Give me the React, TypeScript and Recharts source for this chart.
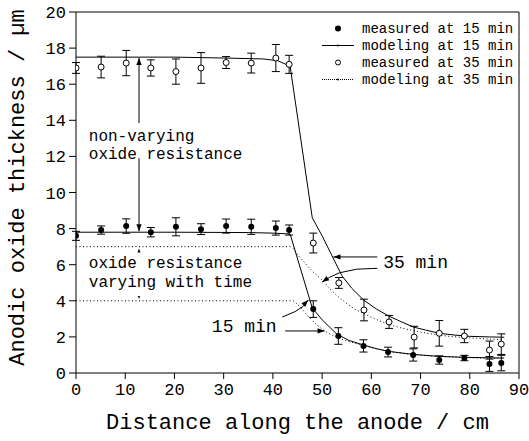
import React from 'react';
import {
  ComposedChart, Line, Scatter, XAxis, YAxis, ErrorBar,
  ReferenceLine, ReferenceDot, Legend,
} from 'recharts';

const FONT = '"Liberation Mono", "Courier New", monospace';

// ---- measured data ----
const meas15X = [0, 5.1, 10.2, 15.2, 20.3, 25.4, 30.5, 35.6, 40.6, 43.3, 48.2, 53.3, 58.4, 63.4, 68.5, 73.8, 78.9, 84, 86.4];
const meas15Y = [7.6, 7.92, 8.14, 7.8, 8.1, 7.97, 8.14, 8.1, 8.03, 7.92, 3.54, 2.05, 1.5, 1.16, 1.0, 0.72, 0.83, 0.5, 0.55];
const meas15E = [0.25, 0.23, 0.4, 0.26, 0.5, 0.3, 0.39, 0.42, 0.39, 0.28, 0.46, 0.46, 0.34, 0.27, 0.34, 0.23, 0.15, 0.41, 0.43];

const meas35X = [0, 5.1, 10.2, 15.2, 20.3, 25.4, 30.5, 35.6, 40.6, 43.3, 48.2, 53.4, 58.5, 63.6, 68.7, 73.8, 78.9, 84, 86.4];
const meas35Y = [16.9, 16.95, 17.17, 16.9, 16.7, 16.9, 17.2, 17.17, 17.45, 17.1, 7.2, 4.99, 3.49, 2.83, 1.99, 2.2, 2.05, 1.27, 1.6];
const meas35E = [0.3, 0.6, 0.7, 0.45, 0.7, 0.85, 0.33, 0.55, 0.75, 0.5, 0.55, 0.3, 0.6, 0.36, 0.6, 0.71, 0.37, 0.5, 0.57];

// ---- modeling: non-varying oxide resistance (solid) ----
const model35X = [0, 10, 20, 30, 38, 41, 43.5, 48, 50, 52, 54, 56, 58.4, 61, 63.5, 66, 68.5, 71, 73.8, 77, 80, 84, 87];
const model35Y = [17.5, 17.5, 17.5, 17.45, 17.4, 17.3, 17.0, 8.6, 7.6, 6.5, 5.4, 4.7, 4.05, 3.55, 3.16, 2.85, 2.55, 2.38, 2.2, 2.1, 2.03, 2.0, 1.98];
const model15X = [0, 20, 35, 40, 43.5, 48, 50, 53, 55.5, 58.4, 61, 63.5, 68.5, 73.8, 79, 84, 87];
const model15Y = [7.8, 7.8, 7.78, 7.75, 7.7, 3.6, 2.95, 2.15, 1.8, 1.55, 1.35, 1.2, 1.03, 0.92, 0.87, 0.84, 0.83];

// ---- modeling: oxide resistance varying with time (dotted) ----
const vary35X = [0, 43.5, 45.5, 48, 50, 52, 54.3, 56, 58.4, 61, 63.5, 66, 68.5, 71, 73.8, 77, 80, 84, 87];
const vary35Y = [7.0, 7.0, 6.4, 5.65, 5.15, 4.55, 4.0, 3.65, 3.3, 2.97, 2.7, 2.5, 2.35, 2.22, 2.1, 2.0, 1.95, 1.88, 1.85];
const vary15X = [0, 44, 45, 47, 49, 51, 53, 56, 58.4, 63.5, 68.5, 73.8, 80, 87];
const vary15Y = [4.0, 4.0, 3.8, 3.2, 2.65, 2.25, 1.98, 1.7, 1.52, 1.2, 1.03, 0.92, 0.85, 0.8];

// ---- axes ----
const xTicks = [0, 10, 20, 30, 40, 50, 60, 70, 80, 90];
const xMinorTicks = [0, 5, 10, 15, 20, 25, 30, 35, 40, 45, 50, 55, 60, 65, 70, 75, 80, 85, 90];
const yTicks = [0, 2, 4, 6, 8, 10, 12, 14, 16, 18, 20];
const yMinorTicks = [0, 1, 2, 3, 4, 5, 6, 7, 8, 9, 10, 11, 12, 13, 14, 15, 16, 17, 18, 19, 20];

const legendLabels = ['measured at 15 min', 'modeling at 15 min', 'measured at 35 min', 'modeling at 35 min'];

// ---- annotations (data coordinates) ----
const annotationTexts = [
  { x: 2.6, y: 13.07, text: 'non-varying', size: 16 },
  { x: 2.6, y: 12.08, text: 'oxide resistance', size: 16 },
  { x: 2.6, y: 6.04, text: 'oxide resistance', size: 16 },
  { x: 2.6, y: 4.99, text: 'varying with time', size: 16 },
  { x: 27.6, y: 2.55, text: '15 min', size: 18 },
  { x: 62.4, y: 6.09, text: '35 min', size: 18 },
];
const arrowPaths = [
  [[12.8, 13.85], [12.8, 17.45]],
  [[12.8, 11.9], [12.8, 7.85]],
  [[41.9, 3.1], [44.5, 3.4], [46.2, 3.7], [47.2, 4.04]],
  [[42.5, 2.33], [50.5, 2.33]],
  [[61.2, 6.43], [52.3, 6.43]],
  [[61.2, 5.8], [57, 5.75], [53.5, 5.55], [51.5, 5.3], [50, 5.04]],
];
const arrowHeads = [
  { x: 12.8, y: 17.45, angle: -90, size: 7 },
  { x: 12.8, y: 7.85, angle: 90, size: 7 },
  { x: 47.2, y: 4.04, angle: -45, size: 7 },
  { x: 50.5, y: 2.33, angle: 0, size: 7 },
  { x: 52.3, y: 6.43, angle: 180, size: 7 },
  { x: 50, y: 5.04, angle: 146, size: 7 },
  { x: 12.8, y: 6.9, angle: -90, size: 4 },
  { x: 12.8, y: 4.1, angle: 90, size: 3 },
];

const zip = (xs: number[], ys: number[], es?: number[]) =>
  xs.map((x, i) => (es ? { x, y: ys[i], err: es[i] } : { x, y: ys[i] }));

const FilledDot = (p: any) => <circle cx={p.cx} cy={p.cy} r={3} fill="#000" />;
const OpenDot = (p: any) => <circle cx={p.cx} cy={p.cy} r={3} fill="#fff" stroke="#000" strokeWidth={1} />;

const Arrowhead = ({ cx, cy, angle, size }: any) => {
  const w = size * 0.38;
  return (
    <polygon
      points={`0,0 ${-size},${-w} ${-size},${w}`}
      transform={`translate(${cx},${cy}) rotate(${angle})`}
      fill="#000"
    />
  );
};

const LegendContent = () => (
  <div style={{ fontFamily: FONT, fontSize: 14, color: '#000' }}>
    {legendLabels.map((label, i) => (
      <div key={label} style={{ display: 'flex', alignItems: 'center', height: 17 }}>
        <svg width={40} height={17} style={{ display: 'block' }}>
          {i === 0 && <circle cx={20} cy={8.5} r={3} fill="#000" />}
          {i === 2 && <circle cx={20} cy={8.5} r={2.5} fill="#fff" stroke="#000" />}
          {i === 1 && (
            <g>
              <line x1={4} x2={36} y1={8.5} y2={8.5} stroke="#000" strokeWidth={1} />
              <circle cx={20} cy={8.5} r={1} fill="#000" />
            </g>
          )}
          {i === 3 && (
            <g>
              <line x1={4} x2={36} y1={8.5} y2={8.5} stroke="#000" strokeWidth={1} strokeDasharray="1 1" />
              <circle cx={20} cy={8.5} r={1} fill="#000" />
            </g>
          )}
        </svg>
        <span style={{ marginLeft: 4, whiteSpace: 'pre' }}>{label}</span>
      </div>
    ))}
  </div>
);

export default function App() {
  const tickStyle = { fontFamily: FONT, fontSize: 17, fill: '#000' };
  return (
    <div style={{ position: 'absolute', left: 0, top: 0, width: 529, height: 441, background: '#fff' }}>
      <ComposedChart width={529} height={441} margin={{ top: 12, right: 10, bottom: 38, left: 16 }}>
        <XAxis
          xAxisId="minor" type="number" dataKey="x" domain={[0, 90]} ticks={xMinorTicks}
          tick={false} tickSize={3} height={0} axisLine={false}
          tickLine={{ stroke: '#000' }} allowDataOverflow
        />
        <XAxis
          type="number" dataKey="x" domain={[0, 90]} ticks={xTicks} interval={0}
          tick={tickStyle} tickSize={6} tickMargin={4} height={30}
          axisLine={{ stroke: '#000' }} tickLine={{ stroke: '#000' }} allowDataOverflow
          label={{
            content: ({ viewBox }: any) => (
              <text
                x={viewBox.x + viewBox.width / 2} y={viewBox.y + 50}
                textAnchor="middle" dominantBaseline="central"
                style={{ fontFamily: FONT, fontSize: 22, fill: '#000' }}
              >
                Distance along the anode / cm
              </text>
            ),
          }}
        />
        <YAxis
          yAxisId="minor" type="number" domain={[0, 20]} ticks={yMinorTicks}
          tick={false} tickSize={3} width={0} axisLine={false}
          tickLine={{ stroke: '#000' }} allowDataOverflow
        />
        <YAxis
          type="number" domain={[0, 20]} ticks={yTicks} interval={0}
          tick={tickStyle} tickSize={7} tickMargin={3} width={60}
          axisLine={{ stroke: '#000' }} tickLine={{ stroke: '#000' }} allowDataOverflow
          label={{
            content: ({ viewBox }: any) => {
              const cx = viewBox.x + 2;
              const cy = viewBox.y + viewBox.height / 2 - 5;
              return (
                <text
                  x={cx} y={cy} transform={`rotate(-90, ${cx}, ${cy})`}
                  textAnchor="middle" dominantBaseline="central"
                  style={{ fontFamily: FONT, fontSize: 22, fill: '#000' }}
                >
                  Anodic oxide thickness / µm
                </text>
              );
            },
          }}
        />

        <ReferenceLine y={20} stroke="#000" ifOverflow="visible" />
        <ReferenceLine x={90} stroke="#000" ifOverflow="visible" />

        <Line data={zip(model35X, model35Y)} dataKey="y" type="linear" stroke="#000" strokeWidth={1} dot={false} isAnimationActive={false} legendType="none" />
        <Line data={zip(model15X, model15Y)} dataKey="y" type="linear" stroke="#000" strokeWidth={1} dot={false} isAnimationActive={false} legendType="none" />
        <Line data={zip(vary35X, vary35Y)} dataKey="y" type="monotone" stroke="#000" strokeWidth={1} strokeDasharray="1 2.5" dot={false} isAnimationActive={false} legendType="none" />
        <Line data={zip(vary15X, vary15Y)} dataKey="y" type="monotone" stroke="#000" strokeWidth={1} strokeDasharray="1 2.5" dot={false} isAnimationActive={false} legendType="none" />

        <Scatter data={zip(meas35X, meas35Y, meas35E)} dataKey="y" shape={OpenDot} isAnimationActive={false}>
          <ErrorBar dataKey="err" direction="y" width={4} stroke="#000" strokeWidth={1} isAnimationActive={false} />
        </Scatter>
        <Scatter data={zip(meas15X, meas15Y, meas15E)} dataKey="y" shape={FilledDot} isAnimationActive={false}>
          <ErrorBar dataKey="err" direction="y" width={4} stroke="#000" strokeWidth={1} isAnimationActive={false} />
        </Scatter>

        {arrowPaths.map((path, i) =>
          path.slice(1).map((pt, j) => (
            <ReferenceLine
              key={`a${i}-${j}`}
              segment={[{ x: path[j][0], y: path[j][1] }, { x: pt[0], y: pt[1] }]}
              stroke="#000" strokeWidth={1} ifOverflow="visible"
            />
          ))
        )}
        {arrowHeads.map((h, i) => (
          <ReferenceDot
            key={`h${i}`} x={h.x} y={h.y} r={1} ifOverflow="visible"
            shape={(p: any) => <Arrowhead cx={p.cx} cy={p.cy} angle={h.angle} size={h.size} />}
          />
        ))}
        {annotationTexts.map((t, i) => (
          <ReferenceDot
            key={`t${i}`} x={t.x} y={t.y} r={1} ifOverflow="visible"
            shape={(p: any) => (
              <text
                x={p.cx} y={p.cy} textAnchor="start" dominantBaseline="central"
                style={{ fontFamily: FONT, fontSize: t.size, fill: '#000', whiteSpace: 'pre' }}
              >
                {t.text}
              </text>
            )}
          />
        ))}

        <Legend
          layout="vertical" align="center" verticalAlign="middle"
          wrapperStyle={{ top: 20, left: 318, width: 205 }}
          content={LegendContent}
        />
      </ComposedChart>
    </div>
  );
}
